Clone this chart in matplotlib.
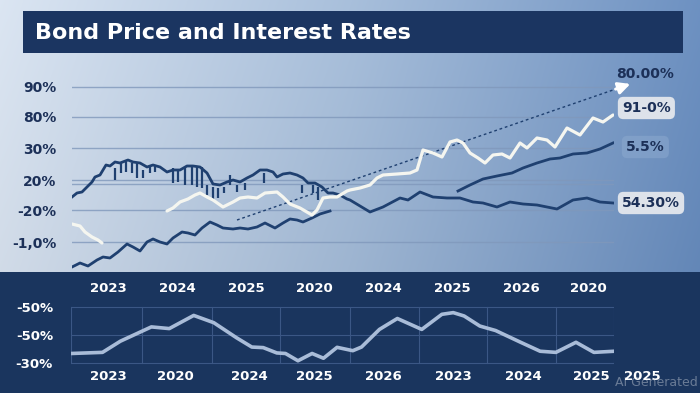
import matplotlib

matplotlib.use("Agg")

import matplotlib.pyplot as plt
import numpy as np
from matplotlib.patches import Rectangle
from matplotlib.transforms import blended_transform_factory

NAVY = "#1f4070"
DARK_PANEL = "#1a355e"
TEXT_NAVY = "#1c3058"
WHITE_LINE = "#f5f6f0"
SOFT_BLUE = "#a9bcd8"

TITLE = "Bond Price and Interest Rates"

# main chart: level axis (arbitrary units), tick labels as printed
MAIN_TICK_LEVELS = [183, 153, 122, 90, 60, 28]
MAIN_TICK_LABELS = ["90%", "80%", "30%", "20%", "-20%", "-1,0%"]
EXTRA_LEVEL = 86

# bond price (dark, upper)
price_x = [0, 5, 10, 15, 20, 23, 28, 34, 38, 43, 48, 56, 61, 68, 75, 81, 88, 95, 101, 108,
           115, 121, 128, 135, 141, 148, 155, 161, 168, 175, 181, 188, 195, 201, 205, 211,
           218, 225, 231, 236, 243, 250, 256, 261, 268, 275, 278, 298, 311, 328, 336, 348,
           361, 375, 388, 401, 411, 425, 438, 451, 465, 485, 501, 515, 528, 541]
price_y = [73, 77, 78, 83, 88, 93, 95, 105, 104, 108, 107, 110, 108, 107, 103, 105, 103, 98,
           100, 100, 104, 104, 103, 97, 86, 85, 88, 90, 88, 92, 95, 100, 100, 98, 93, 96, 97,
           95, 92, 87, 87, 83, 77, 77, 75, 71, 70, 58, 63, 72, 70, 78, 73, 72, 72, 68, 67,
           63, 68, 66, 65, 61, 70, 72, 68, 67]

# candle wicks hanging from the price line
wick_x = [43, 49, 54, 60, 65, 71, 78, 83, 101, 106, 113, 120, 125, 130, 135, 141, 146, 152,
          158, 165, 173, 192, 230, 241, 246]
wick_hi = [102, 107, 108, 107, 107, 100, 103, 105, 102, 100, 102, 103, 103, 103, 85, 83, 82,
           83, 95, 85, 87, 97, 85, 85, 83]
wick_lo = [90, 97, 98, 97, 92, 92, 97, 98, 87, 88, 85, 85, 83, 82, 75, 70, 72, 77, 85, 78,
           80, 87, 77, 77, 70]

# white series, short early fragment and main run
white_a_x = [0, 8, 13, 20, 26, 30]
white_a_y = [46, 44, 38, 33, 30, 27]
white_b_x = [95, 101, 108, 116, 123, 128, 135, 141, 151, 161, 168, 176, 185, 193, 205, 211,
             218, 228, 240, 245, 251, 258, 265, 275, 278, 288, 298, 305, 311, 325, 338, 345,
             351, 361, 370, 378, 385, 391, 398, 406, 413, 421, 430, 438, 448, 455, 465, 475,
             483, 495, 508, 521, 531, 541]
white_b_y = [59, 62, 68, 71, 75, 77, 73, 70, 63, 68, 72, 73, 72, 77, 78, 73, 66, 62, 55, 60,
             72, 73, 73, 79, 80, 82, 85, 92, 95, 96, 97, 100, 120, 117, 113, 128, 130, 127,
             117, 112, 107, 115, 116, 112, 127, 122, 132, 130, 123, 142, 135, 152, 148, 155]

# interest rate (dark, lower, rising)
rate_x = [0, 8, 16, 25, 31, 38, 46, 55, 61, 68, 75, 81, 88, 95, 101, 110, 116, 123, 130, 138,
          145, 151, 161, 168, 176, 185, 193, 203, 211, 218, 225, 231, 240, 248, 258]
rate_y = [3, 7, 4, 10, 13, 12, 18, 26, 23, 19, 28, 31, 28, 26, 32, 38, 37, 35, 42, 48, 45,
          42, 41, 42, 41, 43, 47, 42, 47, 51, 50, 48, 52, 56, 59]

# yield (dark, upper right)
yield_x = [386, 398, 411, 425, 440, 451, 465, 478, 488, 501, 515, 528, 541]
yield_y = [79, 85, 91, 94, 97, 102, 107, 111, 112, 116, 117, 121, 127]

trend_x = [165, 541]
trend_y = [50, 180]
arrow_tip = (561, 187)

right_labels = ["80.00%", "91-0%", "5.5%", "54.30%"]
right_levels = [196, 162, 123, 67]

# lower panel
lower_x = [0, 5.8, 9.1, 14.8, 18.1, 22.6, 26.3, 30.5, 33.3, 35.4, 37.9, 39.5, 41.8, 44.4,
           46.5, 49.0, 51.9, 53.5, 56.8, 60.1, 64.6, 68.3, 70.4, 72.4, 75.3, 78.2, 82.7,
           86.4, 89.3, 93.0, 96.3, 100]
lower_y = [0.34, 0.38, 0.78, 1.29, 1.23, 1.70, 1.44, 0.90, 0.57, 0.55, 0.36, 0.34, 0.08,
           0.34, 0.17, 0.56, 0.44, 0.57, 1.20, 1.59, 1.20, 1.74, 1.80, 1.68, 1.32, 1.16,
           0.75, 0.42, 0.38, 0.74, 0.38, 0.42]
lower_tick_labels = ["-30%", "-50%", "-50%"]
lower_grid_x = [0, 13.1, 26.0, 38.5, 51.4, 64.1, 76.6, 89.3, 100]
top_years = ["2023", "2024", "2025", "2020", "2024", "2025", "2026", "2020"]
top_years_x = [6.8, 19.5, 32.2, 44.9, 57.6, 70.3, 82.9, 95.2]
bottom_years = ["2023", "2020", "2024", "2025", "2026", "2023", "2024", "2025", "2025"]
bottom_years_x = [6.8, 19.2, 32.8, 44.9, 57.6, 70.5, 83.4, 95.8, 105.3]


def background_gradient(height, width):
    cols = np.linspace(0, 1, width)
    rows = np.linspace(0, 1, height)[:, None]
    left = np.array([0.86, 0.90, 0.95])
    mid = np.array([0.66, 0.75, 0.86])
    right = np.array([0.43, 0.57, 0.76])
    t = cols[:, None]
    horiz = np.where(t < 0.5, left + (mid - left) * (t / 0.5), mid + (right - mid) * ((t - 0.5) / 0.5))
    img = horiz[None, :, :] - 0.06 * rows[:, :, None]
    return np.clip(img, 0, 1)


fig = plt.figure(figsize=(7, 3.93), dpi=100)

bg = fig.add_axes([0, 0, 1, 1])
bg.set_zorder(-5)
bg.imshow(background_gradient(393, 700), aspect="auto", extent=[0, 1, 0, 1])
bg.set_xlim(0, 1)
bg.set_ylim(0, 1)
bg.axis("off")
bg.add_patch(Rectangle((0, 0), 1, 121 / 393, facecolor=DARK_PANEL, edgecolor="none", zorder=2))
bg.add_patch(Rectangle((23 / 700, 340 / 393), 660 / 700, 42 / 393, facecolor="#1b3561",
                       edgecolor="none", zorder=2))
fig.text(35 / 700, 360 / 393, TITLE, color="white", fontsize=16, fontweight="bold",
         va="center", ha="left", family="DejaVu Sans")

# main chart
ax = fig.add_axes([72 / 700, 123 / 393, 542 / 700, 210 / 393])
ax.patch.set_alpha(0)
ax.set_xlim(0, 542)
ax.set_ylim(0, 210)
for spine in ax.spines.values():
    spine.set_visible(False)
ax.set_xticks([])
ax.set_yticks(MAIN_TICK_LEVELS)
ax.set_yticklabels(MAIN_TICK_LABELS, fontsize=10, color=TEXT_NAVY, fontweight="semibold")
ax.tick_params(axis="y", length=0, pad=11)
for level in MAIN_TICK_LEVELS + [EXTRA_LEVEL]:
    ax.axhline(level, color="#8098bb", linewidth=1, alpha=0.8, zorder=1)

ax.plot(trend_x, trend_y, color=NAVY, linewidth=1, linestyle=(0, (2, 2)), zorder=2)
ax.annotate("", xy=arrow_tip, xytext=(trend_x[1], trend_y[1]), annotation_clip=False,
            arrowprops=dict(arrowstyle="-|>,head_length=0.7,head_width=0.35", color="white", lw=2.2))

ax.vlines(wick_x, wick_lo, wick_hi, color=NAVY, linewidth=1.6, zorder=3)
ax.plot(price_x, price_y, color=NAVY, linewidth=2, solid_joinstyle="round", zorder=4)
ax.plot(rate_x, rate_y, color=NAVY, linewidth=2, solid_joinstyle="round", zorder=4)
ax.plot(yield_x, yield_y, color=NAVY, linewidth=2, solid_joinstyle="round", zorder=4)
ax.plot(white_a_x, white_a_y, color=WHITE_LINE, linewidth=2.3, solid_capstyle="round", zorder=5)
ax.plot(white_b_x, white_b_y, color=WHITE_LINE, linewidth=2.3, solid_joinstyle="round",
        solid_capstyle="round", zorder=5)

box_styles = [
    None,
    dict(boxstyle="round,pad=0.3,rounding_size=0.4", facecolor="#dde2ea", edgecolor="none"),
    dict(boxstyle="round,pad=0.3,rounding_size=0.4", facecolor="#8eabd0", edgecolor="none", alpha=0.5),
    dict(boxstyle="round,pad=0.3,rounding_size=0.4", facecolor="#dde2ea", edgecolor="none"),
]
label_x = [573, 550, 554, 550]
label_ha = ["center", "left", "left", "left"]
for text, level, style, lx, ha in zip(right_labels, right_levels, box_styles, label_x, label_ha):
    ax.text(lx, level, text, fontsize=10, color=TEXT_NAVY, va="center", ha=ha,
            fontweight="semibold", bbox=style, clip_on=False, zorder=6)

# lower panel
ax2 = fig.add_axes([71 / 700, 23 / 393, 543 / 700, 75 / 393])
ax2.patch.set_alpha(0)
ax2.set_xlim(0, 100)
ax2.set_ylim(-0.25, 2.43)
for spine in ax2.spines.values():
    spine.set_visible(False)
ax2.set_xticks([])
ax2.set_yticks([0, 1, 2])
ax2.set_yticklabels(lower_tick_labels, fontsize=9.5, color="white", fontweight="semibold")
ax2.tick_params(axis="y", length=0, pad=13)
for gx in lower_grid_x:
    ax2.plot([gx, gx], [0, 2], color="#3b5785", linewidth=0.8, zorder=1)
for gy in [0, 1, 2]:
    ax2.axhline(gy, color="#3b5785", linewidth=0.8, zorder=1)
ax2.plot(lower_x, lower_y, color=SOFT_BLUE, linewidth=2.6, solid_joinstyle="round",
         solid_capstyle="round", zorder=3)

top_tr = blended_transform_factory(ax2.transData, fig.transFigure)
for year, yx in zip(top_years, top_years_x):
    ax2.text(yx, 105 / 393, year, transform=top_tr, color="white", fontsize=9.5,
             fontweight="semibold", ha="center", va="center", clip_on=False)
for year, yx in zip(bottom_years, bottom_years_x):
    ax2.text(yx, 16 / 393, year, transform=top_tr, color="white", fontsize=9.5,
             fontweight="semibold", ha="center", va="center", clip_on=False)

fig.text(698 / 700, 10 / 393, "AI Generated", color="white", alpha=0.35, fontsize=9,
         ha="right", va="center")

fig.savefig("out.png", dpi=100)
